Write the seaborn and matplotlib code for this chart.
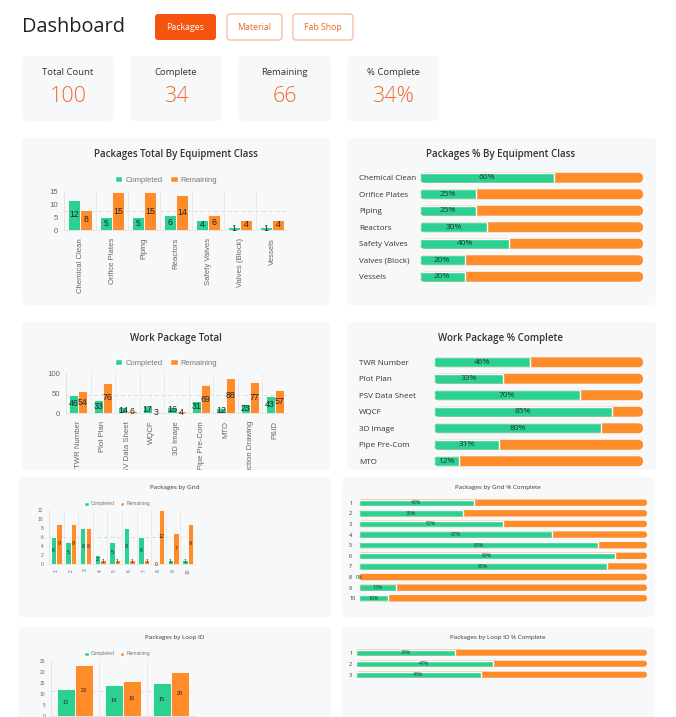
import numpy as np
import pandas as pd
import seaborn as sns
import matplotlib.pyplot as plt
from matplotlib.patches import FancyBboxPatch, Rectangle, Patch
from matplotlib.transforms import Affine2D

# ---- data ----
tabs = ["Packages", "Material", "Fab Shop"]
kpi_labels = ["Total Count", "Complete", "Remaining", "% Complete"]
kpi_values = ["100", "34", "66", "34%"]

equip_classes = ["Chemical Clean", "Orifice Plates", "Piping", "Reactors",
                 "Safety Valves", "Valves (Block)", "Vessels"]
equip_completed = [12, 5, 5, 6, 4, 1, 1]
equip_remaining = [8, 15, 15, 14, 6, 4, 4]
equip_pct = [60, 25, 25, 30, 40, 20, 20]

wp_types = ["TWR Number", "Plot Plan", "PSV Data Sheet", "WQCF", "3D Image",
            "Pipe Pre-Com", "MTO", "Construction Drawing", "P&ID"]
wp_completed = [46, 33, 14, 17, 16, 31, 12, 23, 43]
wp_remaining = [54, 76, 6, 3, 4, 69, 88, 77, 57]
wp_pct = [46, 33, 70, 85, 80, 31, 12, 23, 43]

grids = ["1", "2", "3", "4", "5", "6", "7", "8", "9", "10"]
grid_completed = [6, 5, 8, 2, 5, 8, 6, 0, 1, 1]
grid_remaining = [9, 9, 8, 1, 1, 1, 1, 12, 7, 9]
grid_pct = [40, 36, 50, 67, 83, 89, 86, 0, 13, 10]

loops = ["1", "2", "3"]
loop_completed = [12, 14, 15]
loop_remaining = [23, 16, 20]
loop_pct = [34, 47, 43]

GREEN = "#2dd093"
ORANGE = "#ff8c2a"
PANEL = "#f7f8fa"
ACCENT = "#f5540f"

sns.set_theme(style="white")
plt.rcParams["font.family"] = ["Open Sans", "DejaVu Sans"]

W, H, DPI = 676, 717, 100
fig = plt.figure(figsize=(W / DPI, H / DPI), dpi=DPI)
fig.patch.set_facecolor("white")
# pixel coords, origin top-left
px = Affine2D().scale(1 / DPI, -1 / DPI).translate(0, H / DPI) + fig.dpi_scale_trans
PT = DPI / 72


def add_ax(x0, y0, x1, y1, zo):
    ax = fig.add_axes([x0 / W, 1 - y1 / H, (x1 - x0) / W, (y1 - y0) / H])
    ax.set_zorder(zo)
    ax.patch.set_facecolor("none")
    return ax


def box(x0, y0, x1, y1, fc, zo, r=5, ec="none", lw=0):
    fig.add_artist(FancyBboxPatch((x0, y0), x1 - x0, y1 - y0,
                                  boxstyle=f"round,pad=0,rounding_size={r}",
                                  transform=px, fc=fc, ec=ec, lw=lw, zorder=zo))


def label(x, y, s, size, color="#333", ha="center", zo=6, **kw):
    fig.text(x, y, s, transform=px, fontsize=size, color=color, ha=ha,
             va="center", zorder=zo, **kw)


def grouped_bars(area, cats, done, left, ymax, ystep, fs_tick, fs_lab, leg, zo,
                 show_x=True):
    ax = add_ax(*area, zo)
    n = len(cats)
    df = pd.DataFrame({"cat": cats * 2, "val": done + left,
                       "series": ["Completed"] * n + ["Remaining"] * n})
    sns.barplot(data=df, x="cat", y="val", hue="series", palette=[GREEN, ORANGE],
                saturation=1, width=0.75, edgecolor="white", linewidth=0.6,
                legend=False, ax=ax)
    for c in ax.containers:
        ax.bar_label(c, label_type="center", fontsize=fs_lab, color="#222",
                     family="Liberation Sans")
    ax.axhline(max(done + left) / 2, color="#dcdcdc", lw=0.7, ls=(0, (4, 3)), zorder=0)
    ax.set_xlim(-0.5, n - 0.5)
    ax.set_ylim(0, ymax)
    ax.set_yticks(np.arange(0, ymax + 1, ystep))
    ax.set_xticks(np.arange(n + 1) - 0.5, minor=True)
    ax.grid(which="minor", axis="x", color="#e8e8e8", lw=0.6)
    ax.set(xlabel="", ylabel="")
    ax.tick_params(axis="x", which="major", length=0, labelrotation=90,
                   labelsize=fs_tick, labelcolor="#666", pad=fs_tick,
                   labelbottom=show_x)
    ax.tick_params(axis="x", which="minor", length=3, color="#e8e8e8", width=0.6)
    ax.tick_params(axis="y", length=2, color="#e8e8e8", labelsize=fs_tick,
                   labelcolor="#666", pad=2)
    for t in ax.get_xticklabels() + ax.get_yticklabels():
        t.set_family("Liberation Sans")
    sns.despine(ax=ax)
    for s in ("left", "bottom"):
        ax.spines[s].set_color("#e3e3e3")
        ax.spines[s].set_linewidth(0.6)
    cx, cy, fs_leg = leg
    ax.legend(handles=[Patch(fc=GREEN, label="Completed"), Patch(fc=ORANGE, label="Remaining")],
              loc="center", bbox_to_anchor=(cx, cy), bbox_transform=px, ncol=2,
              frameon=False, prop={"family": "Liberation Sans", "size": fs_leg},
              labelcolor="#777", handlelength=1.0, handleheight=0.9,
              handletextpad=0.4, columnspacing=1.0, borderpad=0, borderaxespad=0)
    return ax


def progress_bars(area, cats, pct, fs_tick, fs_lab, label_x, zo, bar_h=0.6):
    ax = add_ax(*area, zo)
    n = len(cats)
    sns.barplot(x=[100] * n, y=cats, orient="h", color=ORANGE, saturation=1,
                width=bar_h, ax=ax)
    pxx = (area[2] - area[0]) / 100
    pxy = (area[3] - area[1]) / n
    r = 0.5 * bar_h * pxy
    backs = []
    for p in list(ax.containers[0]):
        x, y, w, h = p.get_x(), p.get_y(), p.get_width(), p.get_height()
        p.remove()
        fb = FancyBboxPatch((x, y), w, h, boxstyle=f"round,pad=0,rounding_size={r / pxx}",
                            mutation_aspect=pxx / pxy, fc=ORANGE, ec="none")
        ax.add_patch(fb)
        backs.append(fb)
    sns.barplot(x=pct, y=cats, orient="h", color=GREEN, saturation=1,
                width=bar_h, ax=ax)
    green = ax.containers[-1]
    for g, fb in zip(green, backs):
        g.set_clip_path(fb)
    ax.bar_label(green, labels=[f"{v}%" for v in pct], label_type="center",
                 fontsize=fs_lab, color="#1e3a2e")
    ax.set_xlim(0, 100)
    ax.set_ylim(n - 0.5, -0.5)
    ax.set(xlabel="", ylabel="", xticks=[])
    sns.despine(ax=ax, left=True, bottom=True)
    ax.tick_params(axis="y", length=0, labelsize=fs_tick, labelcolor="#333",
                   pad=(area[0] - label_x) / PT)
    for t in ax.get_yticklabels():
        t.set_ha("left")
    return ax


# ---- header ----
label(22, 27, "Dashboard", 14.3, color="#222", ha="left")
tab_boxes = [(155, 216), (227, 282), (293, 353)]
for i, (name, (x0, x1)) in enumerate(zip(tabs, tab_boxes)):
    if i == 0:
        box(x0, 14, x1, 40, ACCENT, 2, r=3)
        label((x0 + x1) / 2, 27.5, name, 6.3, color="white")
    else:
        box(x0, 14, x1, 40, "white", 2, r=3, ec="#f8b69c", lw=0.9)
        label((x0 + x1) / 2, 27.5, name, 6.3, color="#f0622a")

kpi_boxes = [(22, 114), (130, 222), (238, 331), (347, 439)]
for name, val, (x0, x1) in zip(kpi_labels, kpi_values, kpi_boxes):
    box(x0, 56, x1, 121, PANEL, 2, r=5)
    label((x0 + x1) / 2, 72.5, name, 6.8, color="#333")
    label((x0 + x1) / 2, 96.5, val, 15.5, color="#f3692b", fontweight="light")

# ---- upper panels ----
box(22, 138, 330, 305, PANEL, -2)
box(347, 138, 656, 305, PANEL, -2)
box(22, 322, 330, 470, PANEL, -2)
box(347, 322, 656, 470, PANEL, -2)

label(176, 154.5, "Packages Total By Equipment Class", 7.0, fontweight="semibold")
label(501, 154.5, "Packages % By Equipment Class", 7.0, fontweight="semibold")
label(176, 338.5, "Work Package Total", 7.0, fontweight="semibold")
label(501, 338.5, "Work Package % Complete", 7.0, fontweight="semibold")

grouped_bars((64, 192, 288, 230), equip_classes, equip_completed, equip_remaining,
             15, 5, 5.6, 6.3, (166, 180, 5.5), 0)
progress_bars((420, 169.5, 643, 285), equip_classes, equip_pct, 5.8, 6.0, 359, 0)

grouped_bars((66, 373, 287, 413), wp_types, wp_completed, wp_remaining,
             100, 50, 5.6, 6.3, (166, 363, 5.5), 0)
progress_bars((434, 354, 643, 502.5), wp_types, wp_pct, 5.8, 6.0, 359, 0)

# cover for the lower screenshot area
fig.add_artist(Rectangle((0, 470), W, H - 470, transform=px, fc="white", ec="none", zorder=1))

# ---- lower panels ----
box(18, 477, 331, 617, PANEL, 2)
box(342, 477, 655, 617, PANEL, 2)
box(18, 627, 331, 730, PANEL, 2)
box(342, 627, 655, 730, PANEL, 2)

label(175, 487.5, "Packages by Grid", 4.5)
label(498, 487.5, "Packages by Grid % Complete", 4.5)
label(175, 638, "Packages by Loop ID", 4.5)
label(498, 638, "Packages by Loop ID % Complete", 4.5)

grouped_bars((49, 510, 195, 564), grids, grid_completed, grid_remaining,
             12, 2, 3.5, 3.8, (117, 504, 3.5), 3)
progress_bars((359, 497.4, 647, 603.6), grids, grid_pct, 4.0, 3.8, 349, 3)

grouped_bars((51, 661, 195, 715.7), loops, loop_completed, loop_remaining,
             25, 5, 3.5, 4.0, (117, 654, 3.5), 3, show_x=False)
progress_bars((356, 647.2, 647, 680.2), loops, loop_pct, 4.0, 3.8, 349, 3, bar_h=0.55)

fig.savefig("out.png", dpi=DPI, facecolor="white")
